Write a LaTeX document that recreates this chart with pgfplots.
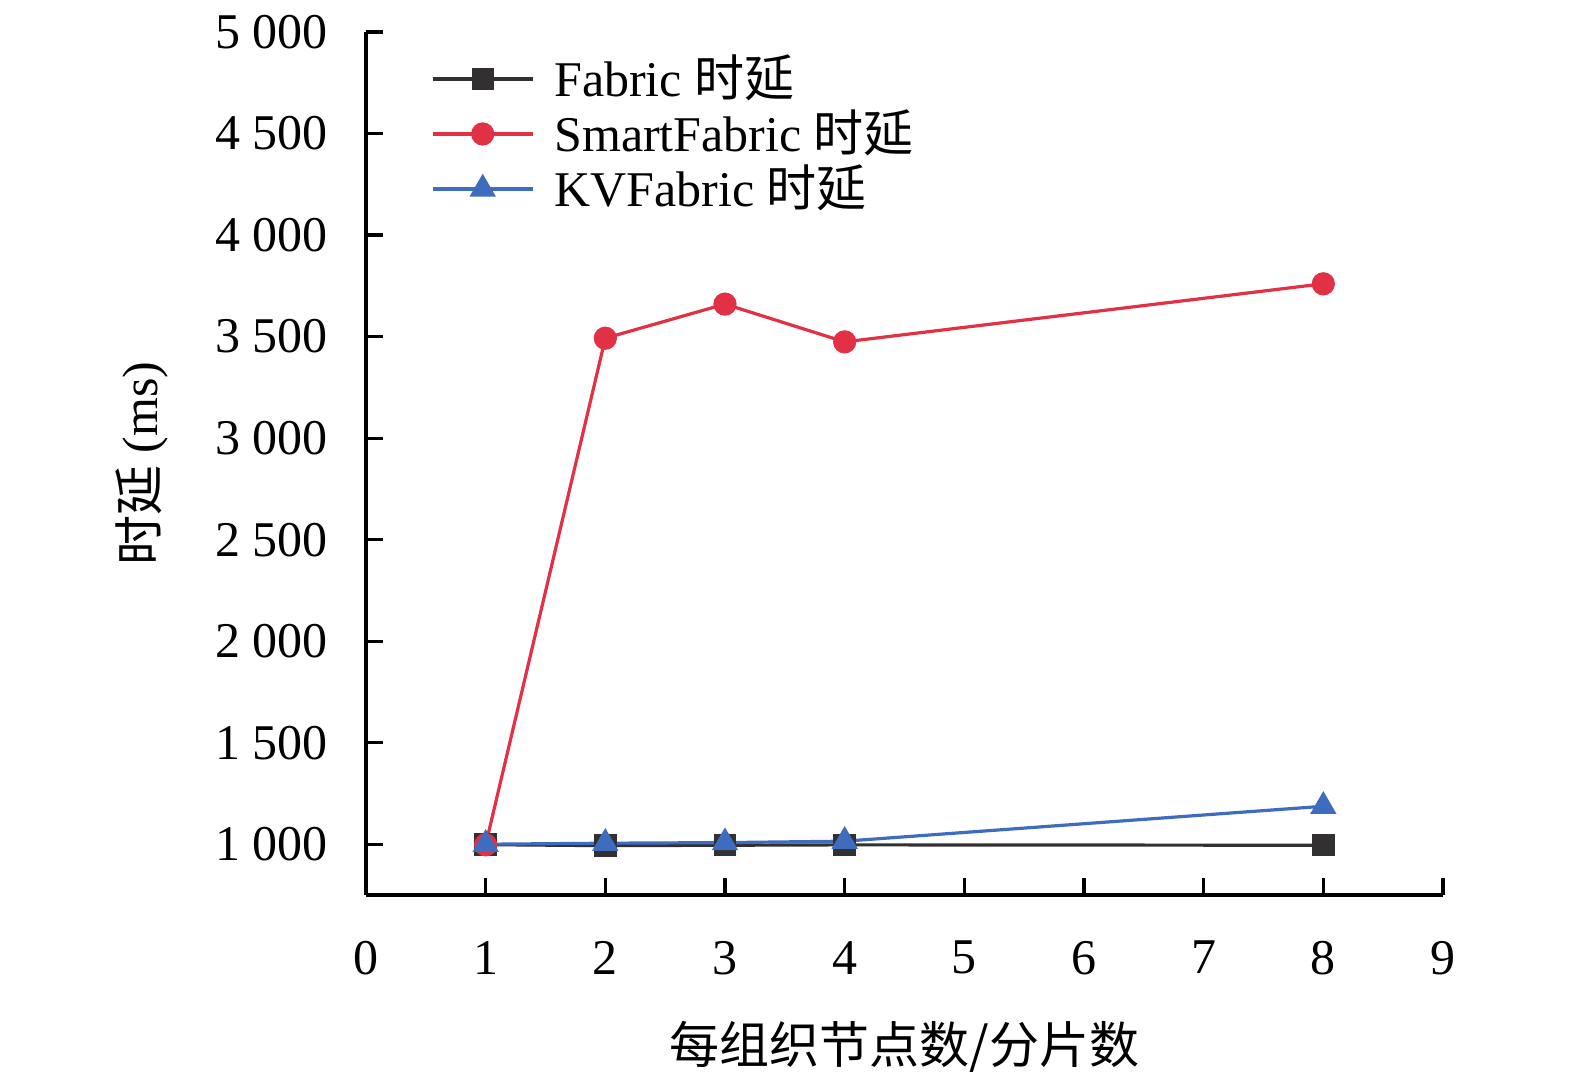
\documentclass[border=0pt]{standalone}
\usepackage{pgfplots}
\pgfplotsset{compat=1.18}
\usepackage{fontspec}
\setmainfont{Liberation Serif}
\newfontfamily\cjk{Noto Sans CJK SC}
\definecolor{cBlack}{RGB}{51,48,50}
\definecolor{cRed}{RGB}{226,48,68}
\definecolor{cBlue}{RGB}{62,108,190}
\begin{document}
\begin{tikzpicture}[x=1pt,y=1pt]
\useasboundingbox (-91.5,-46.5) rectangle (302.25,223.75);
\begin{axis}[
  at={(0,0)}, anchor=south west,
  scale only axis, width=269.25pt, height=215.75pt,
  xmin=0, xmax=9, ymin=750, ymax=5000,
  axis lines=left,
  axis line style={line width=0.8pt, -},
  tick style={line width=0.8pt, black},
  major tick length=4.25pt,
  tick align=inside,
  xtick={0,1,...,9},
  ytick={1000,1500,...,5000},
  font=\fontsize{12.5}{15}\selectfont,
  /pgf/number format/.cd, 1000 sep={\ }, assume math mode=true,
  /pgfplots/.cd,
  yticklabel style={xshift=-6pt},
  xticklabel style={yshift=-8pt},
  xlabel={{\cjk 每组织节点数/分片数}},
  ylabel={{\cjk 时延} (ms)},
  xlabel style={at={(axis description cs:0.5,0)}, anchor=north, yshift=-28pt},
  ylabel style={at={(axis description cs:0,0.5)}, anchor=south, yshift=46pt},
  legend style={at={(0.056,0.988)}, anchor=north west, draw=none, fill=none,
    font=\fontsize{12.5}{12.5}\selectfont, row sep=-2.2pt, inner sep=1pt,
    /tikz/every odd column/.append style={column sep=3pt}},
  legend cell align=left,
  legend image code/.code={
    \draw[#1, mark repeat=2, mark phase=2] plot coordinates {(0pt,0pt) (12.5pt,0pt) (25pt,0pt)};
  },
]
\addplot[cBlack, line width=0.8pt, mark=square*, mark size=2.4pt, mark options={fill=cBlack, draw=cBlack}]
coordinates {(1,998) (2,993) (3,995) (4,997) (8,995)};
\addlegendentry{Fabric {\cjk 时延}}
\addplot[cRed, line width=0.8pt, mark=*, mark size=2.5pt, mark options={fill=cRed, draw=cRed}]
coordinates {(1,997) (2,3492) (3,3660) (4,3474) (8,3760)};
\addlegendentry{SmartFabric {\cjk 时延}}
\addplot[cBlue, line width=0.8pt, mark=triangle*, mark size=3pt, mark options={fill=cBlue, draw=cBlue}]
coordinates {(1,1000) (2,1005) (3,1008) (4,1015) (8,1187)};
\addlegendentry{KVFabric {\cjk 时延}}
\end{axis}
\end{tikzpicture}
\end{document}
